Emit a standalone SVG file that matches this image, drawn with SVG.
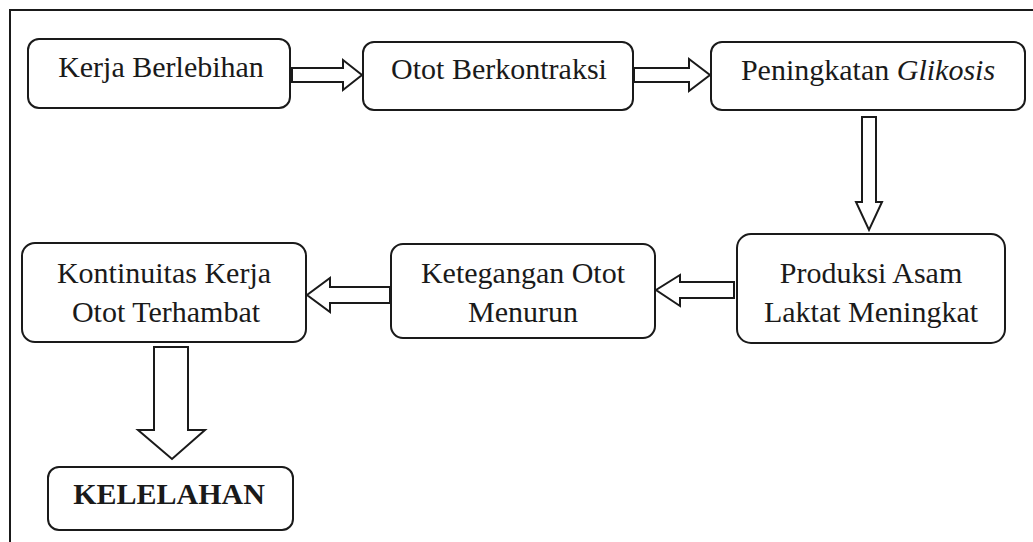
<svg xmlns="http://www.w3.org/2000/svg" width="1033" height="542" viewBox="0 0 1033 542">
<style>
.box{fill:#fff;stroke:#1a1a1a;stroke-width:2}
.arr{fill:#fff;stroke:#1a1a1a;stroke-width:2;stroke-linejoin:miter}
.t{font-family:'Liberation Serif','DejaVu Serif','Times New Roman',serif;font-size:30px;fill:#1a1a1a;text-anchor:middle}
.b{font-weight:bold}
</style>
<rect width="1033" height="542" fill="#fff"/>
<path d="M10,542 V10 H1033" fill="none" stroke="#1a1a1a" stroke-width="2"/>
<g id="connectors">
<path class="arr" d="M292,68 H343 V60 L362,75 L343,90 V82 H292 Z"/>
<path class="arr" d="M634,68 H689 V59 L710,75 L689,91 V82 H634 Z"/>
<path class="arr" d="M862,117 H876 V202 H882 L869,230 L856,202 H862 Z"/>
<path class="arr" d="M734,282 H680 V275 L656,290 L680,306 V298 H734 Z"/>
<path class="arr" d="M390,287 H330 V278 L307,295 L330,312 V303 H390 Z"/>
<path class="arr" d="M154,347 H188 V430 H205 L172,459 L138,430 H154 Z"/>
</g>
<g id="n1"><rect class="box" x="28" y="39" width="262" height="69" rx="11"/><text class="t" x="161" y="77" font-family="Liberation Serif, serif">Kerja Berlebihan</text></g>
<g id="n2"><rect class="box" x="363" y="42" width="270" height="68" rx="11"/><text class="t" x="499" y="79" font-family="Liberation Serif, serif">Otot Berkontraksi</text></g>
<g id="n3"><rect class="box" x="711" y="42" width="314" height="68" rx="11"/><text class="t" x="868" y="80">Peningkatan <tspan font-style="italic">Glikosis</tspan></text></g>
<g id="n4"><rect class="box" x="737" y="234" width="268" height="109" rx="14"/><text class="t" x="871" y="283">Produksi Asam</text><text class="t" x="871" y="322">Laktat Meningkat</text></g>
<g id="n5"><rect class="box" x="391" y="244" width="264" height="94" rx="12"/><text class="t" x="523" y="283">Ketegangan Otot</text><text class="t" x="523" y="322">Menurun</text></g>
<g id="n6"><rect class="box" x="22" y="243" width="284" height="99" rx="13"/><text class="t" x="164" y="283">Kontinuitas Kerja</text><text class="t" x="166" y="322">Otot Terhambat</text></g>
<g id="n7"><rect class="box" x="48" y="467" width="245" height="63" rx="11"/><text class="t b" x="169" y="504">KELELAHAN</text></g>
</svg>
